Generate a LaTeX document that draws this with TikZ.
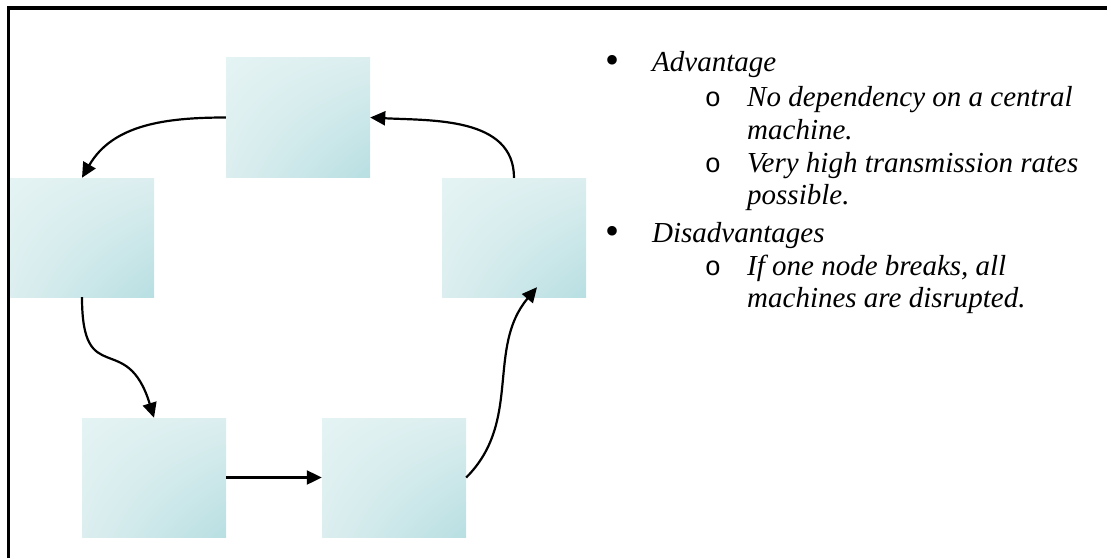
\documentclass[tikz,border=0pt]{standalone}
\usepackage{fontspec}
\setmainfont{Liberation Serif}
\newfontfamily\bulletmono{Liberation Mono}
\usetikzlibrary{arrows.meta,shadings}
\definecolor{boxlight}{HTML}{E4F3F3}
\definecolor{boxmid}{HTML}{DCEEEF}
\definecolor{boxdark}{HTML}{B8DFE2}
\tikzset{
  station/.style={rectangle, inner sep=0pt, minimum width=144pt, minimum height=119pt,
    upper left=boxlight, upper right=boxmid, lower left=boxmid, lower right=boxdark},
  link/.style={line width=2.2pt, -{Triangle[length=15pt,width=14pt]}},
  itemtext/.style={anchor=base west, inner sep=0pt, font=\fontsize{29}{33}\selectfont\itshape},
  dot/.style={anchor=base, inner sep=0pt, font=\fontsize{40}{40}\selectfont},
  ring/.style={anchor=base, inner sep=0pt, font=\fontsize{27}{30}\selectfont\bulletmono},
}
\begin{document}
\begin{tikzpicture}[x=1pt, y=1pt]
  \useasboundingbox (0,0) rectangle (1107,558);
  % frame (left and top edges)
  \draw[line width=3.2pt] (8.5,0) -- (8.5,550) -- (1107,550);

  % ring stations
  \node[station] (T)  at (298,440.5) {};
  \node[station] (L)  at (82,320.5) {};
  \node[station] (BL) at (154,80.5) {};
  \node[station] (BR) at (394,80.5) {};
  \node[station] (R)  at (514,320.5) {};
  \coordinate (Rin) at ([xshift=23pt, yshift=10pt]R.south);

  % ring connections
  \draw[link] (T.west) to[out=180, in=60] (L.north);
  \draw[link] (L.south) to[out=-90, in=107, looseness=1.7] (BL.north);
  \draw[link] (BL.east) -- (BR.west);
  \draw[link] (BR.east) to[out=45, in=-130] (Rin);
  \draw[link] (R.north) to[out=90, in=-3] (T.east);

  % advantages / disadvantages list
  \node[dot]  (b1) at (612,484) {•};
  \node[itemtext] (adv) at (652,486) {Advantage};
  \node[ring] (o1) at (713,451) {o};
  \node[itemtext] (a1) at (747,451) {No dependency on a central};
  \node[itemtext] (a1b) at (747,418.5) {machine.};
  \node[ring] (o2) at (713,386) {o};
  \node[itemtext] (a2) at (747,386) {Very high transmission rates};
  \node[itemtext] (a2b) at (747,353.5) {possible.};
  \node[dot]  (b2) at (612,314) {•};
  \node[itemtext] (dis) at (652,316) {Disadvantages};
  \node[ring] (o3) at (713,283) {o};
  \node[itemtext] (d1) at (747,283) {If one node breaks, all};
  \node[itemtext] (d1b) at (747,250.5) {machines are disrupted.};
\end{tikzpicture}
\end{document}
